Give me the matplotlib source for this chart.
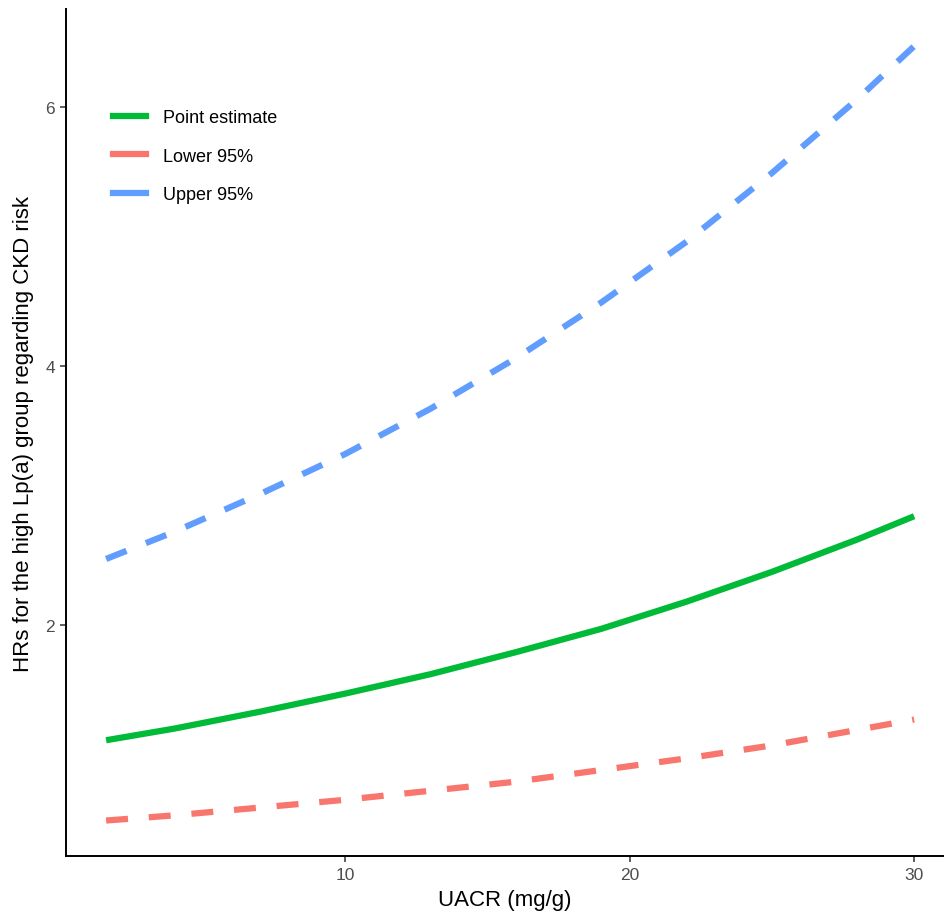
import matplotlib
matplotlib.use("Agg")
import matplotlib.pyplot as plt
from matplotlib.lines import Line2D

plt.rcParams['font.family'] = ['Liberation Sans', 'DejaVu Sans']

# Data
uacr = [1.6, 4, 7, 10, 13, 16, 19, 22, 25, 28, 30]
point_est = [1.11, 1.20, 1.33, 1.47, 1.62, 1.79, 1.97, 2.18, 2.41, 2.66, 2.84]
lower_95 = [0.49, 0.53, 0.59, 0.65, 0.72, 0.79, 0.88, 0.97, 1.07, 1.19, 1.27]
upper_95 = [2.51, 2.72, 3.01, 3.32, 3.67, 4.06, 4.49, 4.96, 5.49, 6.06, 6.47]
series_names = ["Point estimate", "Lower 95%", "Upper 95%"]
x_ticks = [10, 20, 30]
y_ticks = [2, 4, 6]

c_green, c_red, c_blue = "#00BA38", "#F8766D", "#619CFF"

fig = plt.figure(figsize=(9.44, 9.2), dpi=100)
ax = fig.add_axes([66/944, 1-857/920, 1-66/944, (857-10)/920])

lw = 4.5
ax.plot(uacr, point_est, color=c_green, lw=lw, solid_capstyle='butt')
l1, = ax.plot(uacr, lower_95, color=c_red, lw=lw, dash_capstyle='butt')
l1.set_dashes([15.8 / lw, 15.0 / lw])
l2, = ax.plot(uacr, upper_95, color=c_blue, lw=lw, dash_capstyle='butt')
l2.set_dashes([15.8 / lw, 15.0 / lw])

ax.set_xlim(0.19, 31.05)
ax.set_ylim(0.216, 6.757)
ax.set_xticks(x_ticks)
ax.set_yticks(y_ticks)
ax.tick_params(axis='both', labelsize=12.5, labelcolor='#4D4D4D', color='#333333',
               length=4, width=1.1, pad=4)
for s in ['top', 'right']:
    ax.spines[s].set_visible(False)
for s in ['left', 'bottom']:
    ax.spines[s].set_linewidth(1.4)
    ax.spines[s].set_color('black')

ax.set_xlabel("UACR (mg/g)", fontsize=16, labelpad=5)
ax.set_ylabel("HRs for the high Lp(a) group regarding CKD risk", fontsize=16, labelpad=8)

handles = [Line2D([], [], color=c, lw=lw) for c in (c_green, c_red, c_blue)]
fig.legend(handles, series_names, loc='upper left', frameon=False,
           bbox_to_anchor=(113/944, 1-110/920), fontsize=13,
           handlelength=1.85, handletextpad=0.9, labelspacing=1.2,
           borderpad=0, borderaxespad=0)

fig.savefig("out.png", dpi=100)
